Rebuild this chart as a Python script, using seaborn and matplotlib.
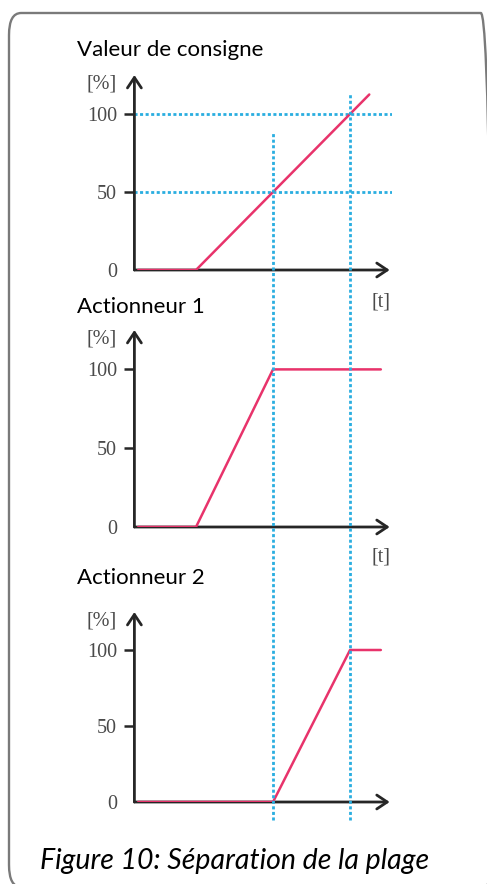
import matplotlib
matplotlib.use("Agg")
import matplotlib.pyplot as plt
import seaborn as sns
import pandas as pd
from matplotlib.patches import FancyBboxPatch

# ---------------- data ----------------
panel_titles = ["Valeur de consigne", "Actionneur 1", "Actionneur 2"]
t_consigne = [0.5, 8, 30.5]
v_consigne = [0, 0, 112.5]
t_act1 = [0.5, 8, 18, 32]
v_act1 = [0, 0, 100, 100]
t_act2 = [0.5, 18, 28, 32]
v_act2 = [0, 0, 100, 100]
split_points = [18, 28]
ref_levels = [50, 100]
ytick_values = [0, 50, 100]
ytick_labels = ["0", "50", "100"]
y_unit = "[%]"
x_unit = "[t]"
caption = "Figure 10: Séparation de la plage"

# ---------------- style ----------------
sns.set_style("white")
plt.rcParams["font.family"] = ["Lato", "DejaVu Sans"]

W, H = 487, 884
fig = plt.figure(figsize=(W / 100, H / 100), dpi=100)

def fx(px):
    return px / W

def fy(py):
    return 1 - py / H

RED = "#e8336b"
BLUE = "#2aaee0"
AX_COL = "#262626"
TICK_COL = "#4a4a4a"
XMAX = 33.45
YMAX = 125
DOT = (0, (1.1, 0.9))

# rounded frame
frame = FancyBboxPatch((fx(9), fy(887)), fx(493) - fx(9), fy(13) - fy(887),
                       boxstyle="round,pad=0,rounding_size=0.025",
                       transform=fig.transFigure, fill=False,
                       edgecolor="#7a7a7a", linewidth=1.7, clip_on=False)
fig.patches.append(frame)

# panel pixel geometry: (y of 0 %, y of arrow tip)
panels = [(270, 75), (527, 330), (802, 612)]
series = [(t_consigne, v_consigne), (t_act1, v_act1), (t_act2, v_act2)]
title_y = [50, 307, 578]
t_label_y = [302, 557, None]

left_px, right_px = 134.4, 392
axes = []
for i, ((y0, ytop), (tx, vy)) in enumerate(zip(panels, series)):
    ax = fig.add_axes([fx(left_px), fy(y0), fx(right_px) - fx(left_px),
                       fy(ytop) - fy(y0)])
    ax.set_xlim(0, XMAX)
    ax.set_ylim(0, YMAX)
    ax.patch.set_alpha(0)
    for s in ax.spines.values():
        s.set_visible(False)

    if i == 0:
        ax.hlines(ref_levels, 0, XMAX, colors=BLUE, linewidth=2.0,
                  linestyles=[DOT], zorder=1)

    df = pd.DataFrame({"t": tx, "v": vy})
    sns.lineplot(data=df, x="t", y="v", ax=ax, color=RED, linewidth=1.8,
                 zorder=3, estimator=None, sort=False)

    # axes with arrow heads
    arrow = dict(arrowstyle="->,head_length=0.75,head_width=0.5",
                 color=AX_COL, lw=2.0, mutation_scale=10,
                 shrinkA=0, shrinkB=0)
    ax.annotate("", xy=(XMAX - 0.3, 0), xytext=(0, 0), arrowprops=arrow,
                annotation_clip=False, zorder=2)
    ax.annotate("", xy=(0, YMAX), xytext=(0, 0), arrowprops=arrow,
                annotation_clip=False, zorder=2)

    ax.set_yticks(ytick_values)
    ax.set_yticklabels(ytick_labels, family="Liberation Serif", fontsize=14.5,
                       color=TICK_COL)
    ax.tick_params(axis="y", length=7, width=1.8, color=AX_COL, pad=5.5,
                   left=True)
    ax.yaxis.get_major_ticks()[0].tick1line.set_visible(False)
    ax.set_xticks([])
    ax.set_xlabel("")
    ax.set_ylabel("")

    fig.text(fx(77), fy(title_y[i]), panel_titles[i], fontsize=16,
             ha="left", va="center", color="black")
    fig.text(fx(117), fy(ytop + 9), y_unit, family="Liberation Serif",
             fontsize=14.5, ha="right", va="center", color=TICK_COL)
    if t_label_y[i] is not None:
        fig.text(fx(381), fy(t_label_y[i]), x_unit, family="Liberation Serif",
                 fontsize=14.5, ha="center", va="center", color=TICK_COL)
    axes.append(ax)

# vertical dotted split lines across all panels (overlay axes in pixel y units)
ov = fig.add_axes([fx(left_px), 0, fx(right_px) - fx(left_px), 1])
ov.set_xlim(0, XMAX)
ov.set_ylim(H, 0)
ov.axis("off")
ov.patch.set_alpha(0)
tops = [133, 93]
for xs, top in zip(split_points, tops):
    ov.vlines(xs, 820, top, colors=BLUE, linewidth=2.0, linestyles=[DOT],
              zorder=4)

fig.text(fx(40), fy(861), caption, fontsize=20.5, style="italic",
         ha="left", va="center", color="black")

fig.savefig("out.png", dpi=100)
